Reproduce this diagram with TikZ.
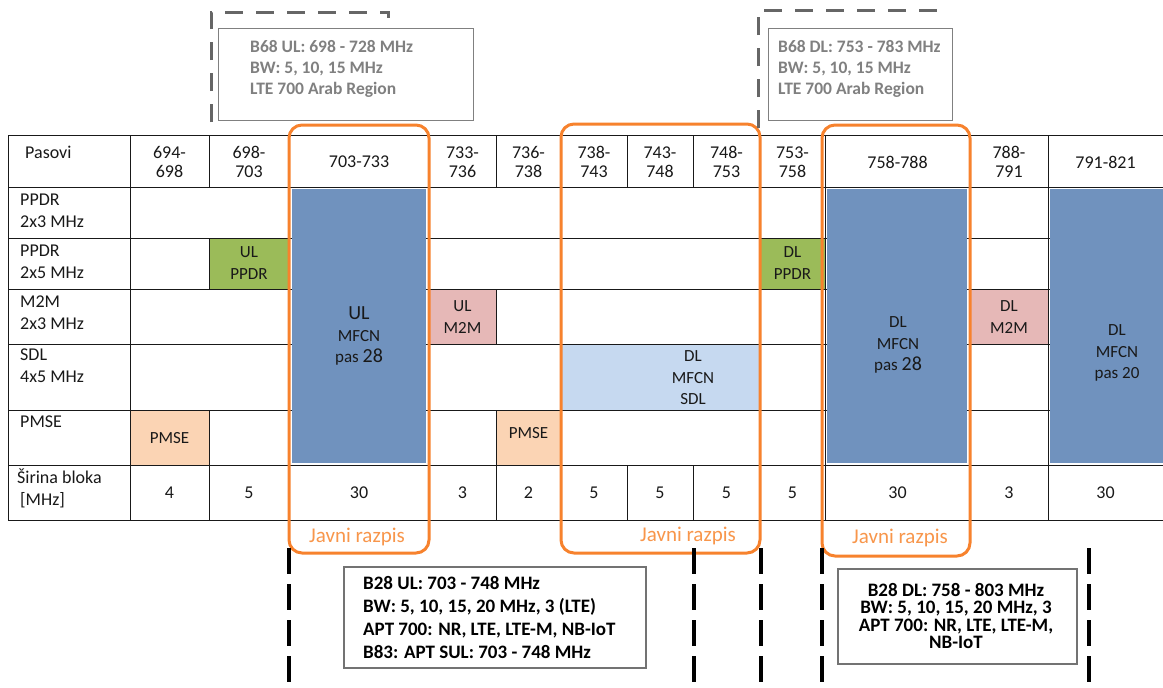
\documentclass[tikz,border=0pt]{standalone}
\usepackage{fontspec}
\setmainfont{Carlito}
\usetikzlibrary{positioning}
\definecolor{inkBlack}{RGB}{25, 25, 25}
\definecolor{bandBlue}{RGB}{112, 146, 190}
\definecolor{bandSky}{RGB}{198, 217, 240}
\definecolor{bandGreen}{RGB}{155, 187, 89}
\definecolor{bandPink}{RGB}{230, 184, 183}
\definecolor{bandPeach}{RGB}{251, 212, 180}
\definecolor{tenderOrange}{RGB}{247, 130, 45}
\definecolor{tenderLabel}{RGB}{248, 150, 75}
\definecolor{noteGray}{RGB}{128, 128, 128}

\begin{document}
\begin{tikzpicture}[x=1pt, y=-1pt,
    tableLine/.style={draw=inkBlack, line width=1pt},
    cellText/.style={font=\fontsize{18}{19}\selectfont, align=center, inner sep=0pt, text=inkBlack},
    bandText/.style={font=\fontsize{17}{21.5}\selectfont, align=center, inner sep=0pt, text=inkBlack},
    rowText/.style={font=\fontsize{18}{22}\selectfont, align=left, anchor=west, inner sep=0pt, text=inkBlack},
    tenderBox/.style={draw=tenderOrange, line width=3pt, rounded corners=13pt},
    tenderText/.style={font=\fontsize{21}{22}\selectfont, text=tenderLabel, inner sep=0pt},
    noteBox/.style={draw=noteGray, line width=1.3pt, anchor=north west, inner sep=0pt},
    grayNote/.style={font=\fontsize{17.5}{21}\selectfont\bfseries, text=noteGray, align=left, anchor=west, inner sep=0pt},
    blackNote/.style={font=\fontsize{19}{23}\selectfont\bfseries, text=black, inner sep=0pt},
    bandEdge/.style={draw=black!60, line width=3pt, dash pattern=on 18pt off 13pt},
    cutLine/.style={draw=black, line width=4pt, dash pattern=on 26pt off 10pt}]

\useasboundingbox (0,0) rectangle (1163,688);
\fill[white] (0,0) rectangle (1163,688);

\fill[bandGreen] (209,238) rectangle (289,289);
\fill[bandGreen] (760,238) rectangle (825,289);
\fill[bandPink] (429,289) rectangle (496,344);
\fill[bandPink] (970,289) rectangle (1048,344);
\fill[bandPeach] (130,410) rectangle (209,465);
\fill[bandPeach] (496,410) rectangle (561,465);
\fill[bandSky] (561,344) rectangle (760,410);

\foreach \y in {135,187,238,289,344,410,465,520}
    \draw[tableLine] (8,\y) -- (1163,\y);
\foreach \x in {8,130,289,429,561,760,825,970,1048}
    \draw[tableLine] (\x,135) -- (\x,520);
\foreach \x/\a/\b in {209/135/187, 209/238/289, 209/410/520, 496/135/187, 496/289/344,
                      496/410/520, 627/135/187, 627/465/520, 693/135/187, 693/465/520}
    \draw[tableLine] (\x,\a) -- (\x,\b);

\fill[bandBlue] (292,189) rectangle (426,463);
\fill[bandBlue] (827,189) rectangle (967,463);
\fill[bandBlue] (1050,189) rectangle (1163,463);

\node[rowText] (pasovi) at (25,152) {Pasovi};
\node[rowText] (ppdrA) at (20,211) {PPDR\\2x3 MHz};
\node[rowText] (ppdrB) at (20,262) {PPDR\\2x5 MHz};
\node[rowText] (mtwom) at (20,313) {M2M\\2x3 MHz};
\node[rowText] (sdl) at (20,366) {SDL\\4x5 MHz};
\node[rowText] (pmse) at (20,422) {PMSE};
\node[rowText] (sirina) at (17,488) {Širina bloka\\\hspace*{3pt}[MHz]};

\foreach \x/\t [count=\i] in {169.5/{694-\\698}, 249/{698-\\703}, 359/{703-733}, 462.5/{733-\\736},
                              528.5/{736-\\738}, 594/{738-\\743}, 660/{743-\\748}, 726.5/{748-\\753},
                              792.5/{753-\\758}, 897.5/{758-788}, 1009/{788-\\791}, 1105.5/{791-821}}
    \node[cellText] (band\i) at (\x,162) {\t};

\foreach \x/\w [count=\i] in {169.5/4, 249/5, 359/30, 462.5/3, 528.5/2, 594/5, 660/5, 726.5/5,
                              792.5/5, 897.5/30, 1009/3, 1105.5/30}
    \node[cellText] (width\i) at (\x,493) {\w};

\node[bandText] (ulPpdr) at (249,263) {UL\\PPDR};
\node[bandText] (dlPpdr) at (792.5,263) {DL\\PPDR};
\node[bandText] (ulM2m) at (462.5,317) {UL\\M2M};
\node[bandText] (dlM2m) at (1009,317) {DL\\M2M};
\node[bandText] (pmseA) at (169.5,438) {PMSE};
\node[bandText] (pmseB) at (528.5,433) {PMSE};
\node[bandText] (sdlBlock) at (693,378) {DL\\MFCN\\SDL};
\node[bandText] (ulMfcn) at (359,336) {{\fontsize{20}{21}\selectfont UL}\\MFCN\\pas {\fontsize{20}{21}\selectfont 28}};
\node[bandText] (dlMfcn) at (898,345) {DL\\MFCN\\pas {\fontsize{20}{21}\selectfont 28}};
\node[bandText] (dlMfcnB) at (1117,353) {DL\\MFCN\\pas 20};

\draw[tenderBox] (289,125) rectangle (429,553);
\draw[tenderBox] (561,124) rectangle (760,553);
\draw[tenderBox] (822,125) rectangle (970,556);
\node[tenderText] (razpisUl) at (357,537) {Javni razpis};
\node[tenderText] (razpisSdl) at (688,536) {Javni razpis};
\node[tenderText] (razpisDl) at (900,538) {Javni razpis};

\draw[bandEdge] (211,122) -- (211,12) -- (388,12) -- (388,18);
\draw[bandEdge] (758,128) -- (758,10) -- (937,10) -- (937,16);
\node[noteBox, minimum width=255pt, minimum height=92pt] (ulNote) at (218,28) {};
\node[grayNote] (ulNoteText) at (250,69) {B68 UL: 698 - 728 MHz\\BW: 5, 10, 15 MHz\\LTE 700 Arab Region};
\node[noteBox, minimum width=184pt, minimum height=92pt] (dlNote) at (768,28) {};
\node[grayNote] (dlNoteText) at (778,69) {B68 DL: 753 - 783 MHz\\BW: 5, 10, 15 MHz\\LTE 700 Arab Region};

\foreach \x in {289,694,761,822,1089}
    \draw[cutLine] (\x,548) -- (\x,688);

\node[noteBox, draw=black!55, line width=1.6pt, minimum width=302pt, minimum height=101pt] (ulBand) at (343,566) {};
\node[blackNote, align=left, anchor=west] (ulBandText) at (363,618)
    {B28 UL: 703 - 748 MHz\\BW: 5, 10, 15, 20 MHz, 3 (LTE)\\APT 700: NR, LTE, LTE-M, NB-IoT\\B83: APT SUL: 703 - 748 MHz};
\node[noteBox, draw=black!55, line width=1.6pt, minimum width=239pt, minimum height=95pt] (dlBand) at (837,568) {};
\node[blackNote, align=center, font=\fontsize{19}{17.5}\selectfont\bfseries] (dlBandText) at (956,616)
    {B28 DL: 758 - 803 MHz\\BW: 5, 10, 15, 20 MHz, 3\\APT 700: NR, LTE, LTE-M,\\NB-IoT};
\end{tikzpicture}
\end{document}
